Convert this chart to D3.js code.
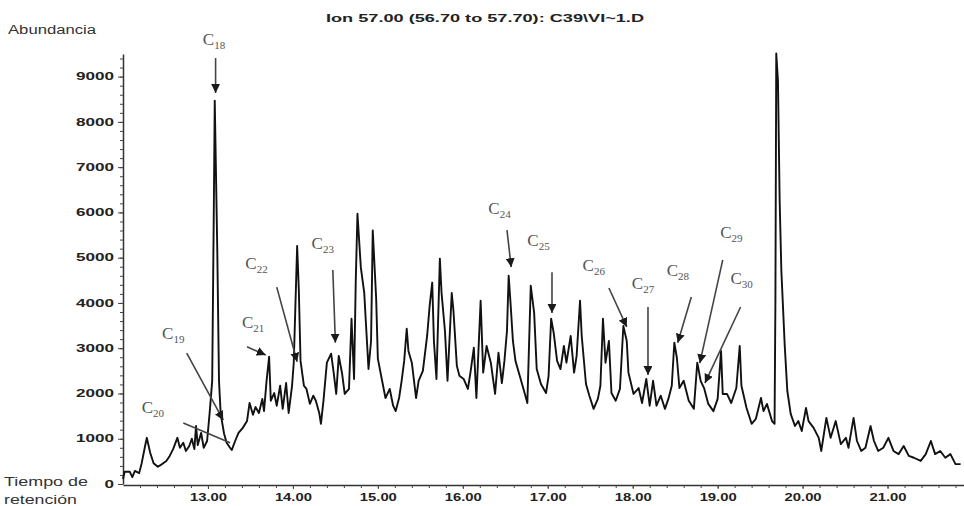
<!DOCTYPE html>
<html>
<head>
<meta charset="utf-8">
<script src="https://cdn.jsdelivr.net/npm/d3@7"></script>
<style>
  html, body { margin: 0; padding: 0; background: #fff; }
  svg { display: block; }
</style>
</head>
<body>
<div id="chart"></div>
<script>
const title = 'Ion  57.00 (56.70 to 57.70): C39\\VI~1.D'

const times = [
  12.00, 12.02, 12.08, 12.11, 12.14, 12.19, 12.22, 12.26, 12.28, 12.32,
  12.36, 12.41, 12.46, 12.51, 12.55, 12.59, 12.64, 12.67, 12.71, 12.74,
  12.78, 12.81, 12.84, 12.86, 12.88, 12.92, 12.95, 12.99, 13.02, 13.05,
  13.07, 13.08, 13.11, 13.13, 13.15, 13.19, 13.22, 13.26, 13.28, 13.32,
  13.36, 13.41, 13.46, 13.49, 13.53, 13.56, 13.60, 13.64, 13.66, 13.69,
  13.72, 13.74, 13.78, 13.81, 13.85, 13.88, 13.92, 13.95, 13.99, 14.01,
  14.05, 14.07, 14.09, 14.13, 14.16, 14.20, 14.24, 14.27, 14.31, 14.33,
  14.36, 14.40, 14.45, 14.48, 14.51, 14.54, 14.58, 14.61, 14.66, 14.69,
  14.72, 14.74, 14.76, 14.80, 14.84, 14.86, 14.89, 14.92, 14.94, 14.98,
  15.00, 15.05, 15.09, 15.14, 15.18, 15.21, 15.25, 15.28, 15.31, 15.34,
  15.36, 15.40, 15.45, 15.48, 15.53, 15.58, 15.61, 15.64, 15.66, 15.69,
  15.73, 15.75, 15.79, 15.82, 15.87, 15.89, 15.93, 15.96, 16.01, 16.06,
  16.09, 16.13, 16.16, 16.21, 16.24, 16.28, 16.33, 16.38, 16.42, 16.46,
  16.49, 16.52, 16.54, 16.56, 16.59, 16.62, 16.67, 16.72, 16.76, 16.80,
  16.84, 16.87, 16.92, 16.98, 17.01, 17.04, 17.07, 17.11, 17.15, 17.19,
  17.22, 17.27, 17.31, 17.34, 17.38, 17.40, 17.45, 17.49, 17.54, 17.59,
  17.62, 17.65, 17.68, 17.72, 17.75, 17.80, 17.85, 17.89, 17.93, 17.95,
  18.01, 18.07, 18.11, 18.16, 18.20, 18.24, 18.28, 18.33, 18.38, 18.42,
  18.46, 18.49, 18.52, 18.55, 18.60, 18.66, 18.72, 18.76, 18.80, 18.84,
  18.89, 18.95, 19.00, 19.04, 19.06, 19.11, 19.16, 19.22, 19.26, 19.28,
  19.34, 19.40, 19.45, 19.51, 19.54, 19.58, 19.64, 19.67, 19.68, 19.69,
  19.71, 19.73, 19.75, 19.79, 19.82, 19.86, 19.91, 19.95, 19.99, 20.04,
  20.07, 20.13, 20.19, 20.22, 20.28, 20.33, 20.39, 20.45, 20.51, 20.54,
  20.60, 20.64, 20.69, 20.74, 20.80, 20.84, 20.89, 20.95, 21.01, 21.07,
  21.13, 21.19, 21.25, 21.31, 21.39, 21.45, 21.51, 21.56, 21.62, 21.68,
  21.74, 21.80, 21.86
]

const abundance = [
  110, 270, 270, 150, 290, 240, 460, 840, 1020, 690,
  460, 380, 440, 510, 620, 770, 1020, 800, 910, 730,
  840, 1000, 770, 1280, 860, 1130, 800, 950, 1570, 2280,
  6260, 8470, 5150, 2280, 1550, 1110, 910, 800, 750, 950,
  1130, 1240, 1390, 1790, 1530, 1700, 1570, 1880, 1610, 2280,
  2810, 1840, 2010, 1730, 2170, 1660, 2230, 1570, 2170, 2680,
  5260, 4270, 2720, 2170, 2100, 1770, 1950, 1840, 1570, 1330,
  1840, 2680, 2880, 2460, 1990, 2830, 2430, 1990, 2100, 3650,
  2320, 4490, 5970, 4780, 4220, 3540, 2540, 3160, 5600, 4110,
  2770, 2280, 1900, 2100, 1730, 1610, 1900, 2280, 2720, 3430,
  2940, 2680, 1900, 2280, 2500, 3270, 3940, 4450, 3160, 2320,
  4980, 4220, 3380, 2280, 4220, 3830, 2610, 2390, 2320, 2100,
  2460, 3010, 1900, 4050, 2460, 3050, 2680, 1990, 2900, 2230,
  2720, 3380, 4600, 4050, 3160, 2720, 2390, 2060, 1790, 4380,
  3780, 2540, 2210, 2010, 2390, 3650, 3340, 2720, 2540, 3050,
  2680, 3270, 2460, 2830, 4050, 3270, 2210, 1950, 1660, 1880,
  2170, 3650, 2680, 3160, 2010, 1840, 2100, 3490, 3160, 2460,
  1990, 2120, 1790, 2320, 1730, 2280, 1730, 1950, 1660, 1880,
  2170, 3120, 2790, 2120, 2280, 1840, 1660, 2680, 2280, 2120,
  1770, 1610, 1880, 2940, 1990, 1990, 1790, 2120, 3050, 2170,
  1680, 1330, 1440, 1900, 1610, 1770, 1390, 1330, 4050, 9510,
  8910, 6260, 4710, 3050, 2060, 1550, 1280, 1390, 1170, 1680,
  1390, 1240, 1020, 730, 1460, 1020, 1390, 880, 1020, 800,
  1460, 950, 730, 800, 1280, 950, 730, 800, 1020, 730,
  660, 840, 620, 580, 510, 660, 950, 660, 730, 580,
  660, 440, 440
]

const xTickValues = [13, 14, 15, 16, 17, 18, 19, 20, 21]
const xTickLabels = ['13.00', '14.00', '15.00', '16.00', '17.00', '18.00', '19.00', '20.00', '21.00']
const yTickValues = [0, 1000, 2000, 3000, 4000, 5000, 6000, 7000, 8000, 9000]

// peak annotations (carbon number, arrow tip, arrow tail, label anchor)
const peakNames = ['18', '19', '20', '21', '22', '23', '24', '25', '26', '27', '28', '29', '30']
const tipTime  = [13.09, 13.18, 13.26, 13.68, 14.05, 14.50, 16.57, 17.05, 17.93, 18.18, 18.53, 18.79, 18.85]
const tipAbund = [8640, 1410, 910, 2850, 2700, 3120, 4790, 3780, 3470, 2410, 3120, 2670, 2230]
const tailTime  = [13.09, 12.75, 12.71, 13.46, 13.81, 14.47, 16.52, 17.05, 17.72, 18.18, 18.69, 19.06, 19.27]
const tailAbund = [9410, 2890, 1350, 3030, 4350, 4730, 5610, 4680, 4330, 3910, 4130, 4950, 3910]
const labelTime  = [12.94, 12.46, 12.22, 13.40, 13.44, 14.22, 16.30, 16.76, 17.41, 17.99, 18.40, 19.03, 19.15]
const labelAbund = [9700, 3200, 1570, 3450, 4750, 5190, 5970, 5260, 4710, 4310, 4600, 5440, 4420]
const arrowHead = [true, true, false, true, true, true, true, true, true, true, true, true, true]

const width = 964
const height = 506

const x = d3.scaleLinear().domain([12, 21.9]).range([123, 964])
const y = d3.scaleLinear().domain([0, 9500]).range([484, 54])

const svg = d3.select('#chart').append('svg')
    .attr('width', width)
    .attr('height', height)
    .style('font-family', 'Liberation Sans, Arial, sans-serif')

svg.append('defs').append('marker')
    .attr('id', 'head')
    .attr('viewBox', '0 0 10 10')
    .attr('refX', 10)
    .attr('refY', 5)
    .attr('markerWidth', 9)
    .attr('markerHeight', 9)
    .attr('markerUnits', 'userSpaceOnUse')
    .attr('orient', 'auto')
  .append('path')
    .attr('d', 'M0,0L10,5L0,10Z')
    .attr('fill', '#1a1a1a')

svg.append('text')
    .attr('x', 326)
    .attr('y', 22)
    .attr('textLength', 318)
    .attr('lengthAdjust', 'spacingAndGlyphs')
    .style('font-size', '10px')
    .style('font-weight', 'bold')
    .style('fill', '#222')
    .text(title)

svg.append('text')
    .attr('x', 8)
    .attr('y', 34)
    .attr('textLength', 88)
    .attr('lengthAdjust', 'spacingAndGlyphs')
    .style('font-size', '12px')
    .style('fill', '#333')
    .text('Abundancia')

svg.append('text')
    .attr('x', 4)
    .attr('y', 486)
    .attr('textLength', 84)
    .attr('lengthAdjust', 'spacingAndGlyphs')
    .style('font-size', '12px')
    .style('fill', '#333')
    .text('Tiempo de')

svg.append('text')
    .attr('x', 4)
    .attr('y', 504)
    .attr('textLength', 73)
    .attr('lengthAdjust', 'spacingAndGlyphs')
    .style('font-size', '12px')
    .style('fill', '#333')
    .text('retención')

// x axis: minor ticks every 0.2 min, labelled ticks on whole minutes
const xMinor = d3.range(61, 110).map(i => i / 5)
svg.append('g')
    .attr('transform', 'translate(0,485)')
    .call(d3.axisBottom(x).tickValues(xMinor).tickSize(3).tickSizeOuter(0).tickFormat(''))
    .call(g => g.select('.domain').attr('stroke', '#333').attr('stroke-width', 1.5))
    .call(g => g.selectAll('.tick line').attr('stroke', '#444'))

svg.append('g')
    .attr('transform', 'translate(0,485)')
    .call(d3.axisBottom(x).tickValues(xTickValues).tickSize(4).tickSizeOuter(0)
      .tickFormat((d, i) => xTickLabels[i]))
    .call(g => g.select('.domain').remove())
    .call(g => g.selectAll('.tick line').attr('stroke', '#444'))
    .call(g => g.selectAll('.tick text')
      .attr('y', 9)
      .attr('textLength', 37)
      .attr('lengthAdjust', 'spacingAndGlyphs')
      .style('font-size', '10px')
      .style('font-weight', 'bold')
      .style('font-family', 'Liberation Sans, Arial, sans-serif')
      .style('fill', '#222'))

// y axis: minor ticks every 200, labels every 1000
const yMinor = d3.range(0, 9501, 200)
svg.append('g')
    .attr('transform', 'translate(123,0)')
    .call(d3.axisLeft(y).tickValues(yMinor).tickSize(3).tickSizeOuter(0).tickFormat(''))
    .call(g => g.select('.domain').attr('stroke', '#333').attr('stroke-width', 1.5))
    .call(g => g.selectAll('.tick line').attr('stroke', '#444'))

svg.append('g')
    .attr('transform', 'translate(123,0)')
    .call(d3.axisLeft(y).tickValues(yTickValues).tickSize(5).tickSizeOuter(0).tickFormat(d3.format('d')))
    .call(g => g.select('.domain').remove())
    .call(g => g.selectAll('.tick line').attr('stroke', '#444'))
    .call(g => g.selectAll('.tick text')
      .attr('x', -9)
      .attr('textLength', d => String(d).length * 9.5)
      .attr('lengthAdjust', 'spacingAndGlyphs')
      .style('font-size', '10px')
      .style('font-weight', 'bold')
      .style('font-family', 'Liberation Sans, Arial, sans-serif')
      .style('fill', '#222'))

const points = times.map((t, i) => [t, abundance[i]])

svg.append('path')
    .datum(points)
    .attr('fill', 'none')
    .attr('stroke', '#111')
    .attr('stroke-width', 1.9)
    .attr('stroke-linejoin', 'round')
    .attr('d', d3.line().x(d => x(d[0])).y(d => y(d[1])))

const peaks = peakNames.map((n, i) => ({
  name: n,
  tip: [tipTime[i], tipAbund[i]],
  tail: [tailTime[i], tailAbund[i]],
  label: [labelTime[i], labelAbund[i]],
  head: arrowHead[i]
}))

svg.append('g')
  .selectAll('line')
    .data(peaks)
  .enter().append('line')
    .attr('x1', d => x(d.tail[0]))
    .attr('y1', d => y(d.tail[1]))
    .attr('x2', d => x(d.tip[0]))
    .attr('y2', d => y(d.tip[1]))
    .attr('stroke', '#444')
    .attr('stroke-width', 1.6)
    .attr('marker-end', d => d.head ? 'url(#head)' : null)

const labels = svg.append('g')
  .selectAll('text')
    .data(peaks)
  .enter().append('text')
    .attr('x', d => x(d.label[0]))
    .attr('y', d => y(d.label[1]))
    .style('font-family', 'Liberation Serif, Times New Roman, serif')
    .style('fill', '#555')

labels.append('tspan')
    .style('font-size', '17px')
    .text('C')

labels.append('tspan')
    .attr('dy', 4)
    .style('font-size', '11px')
    .text(d => d.name)
</script>
</body>
</html>
